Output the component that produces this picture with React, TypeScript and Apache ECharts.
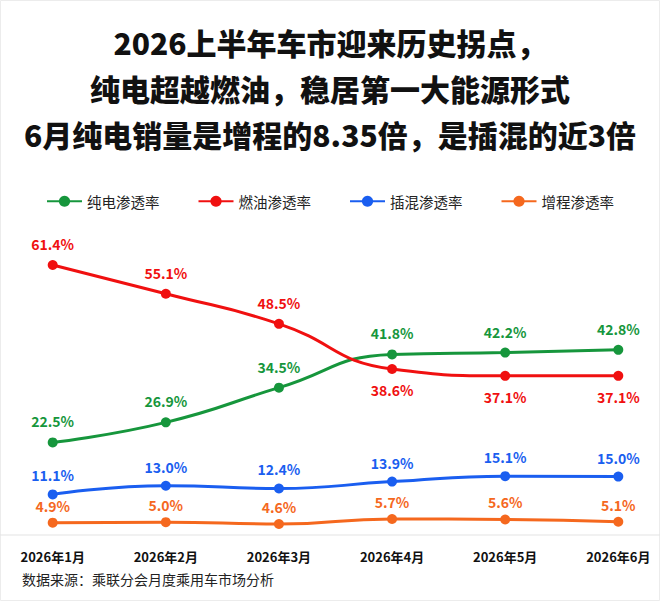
import { useEffect, useRef } from 'react'
import * as echarts from 'echarts'

const months = ['2026年1月', '2026年2月', '2026年3月', '2026年4月', '2026年5月', '2026年6月']
const bevShare = [22.5, 26.9, 34.5, 41.8, 42.2, 42.8]
const iceShare = [61.4, 55.1, 48.5, 38.6, 37.1, 37.1]
const phevShare = [11.1, 13.0, 12.4, 13.9, 15.1, 15.0]
const erevShare = [4.9, 5.0, 4.6, 5.7, 5.6, 5.1]

const titleLines = [
  '2026上半年车市迎来历史拐点，',
  '纯电超越燃油，稳居第一大能源形式',
  '6月纯电销量是增程的8.35倍，是插混的近3倍'
]
const sourceNote = '数据来源：乘联分会月度乘用车市场分析'

const FONT = '"Noto Sans CJK SC", "Noto Sans", sans-serif'

// 折线系列的公共配置
const makeSeries = (name: string, color: string, data: any[], labelGap: number) => ({
  name,
  type: 'line',
  smooth: true,
  symbol: 'circle',
  symbolSize: 10,
  data,
  itemStyle: { color },
  lineStyle: { color, width: 3 },
  label: {
    show: true,
    position: 'top',
    distance: labelGap,
    color,
    fontFamily: FONT,
    fontWeight: 'bold',
    fontSize: 14,
    formatter: (p: any) => Number(p.value).toFixed(1) + '%'
  }
})

function App() {
  const chartRef = useRef<HTMLDivElement>(null)

  useEffect(() => {
    const chart = echarts.init(chartRef.current, null, { renderer: 'svg' })

    // 燃油被纯电反超后，标签放到点的下方
    const iceData = iceShare.map((v, i) =>
      v < bevShare[i] ? { value: v, label: { position: 'bottom' } } : v
    )

    chart.setOption({
      animation: false,
      backgroundColor: '#fff',
      textStyle: { fontFamily: FONT },
      title: {
        text: titleLines.join('\n'),
        left: 'center',
        top: 14,
        textStyle: {
          fontFamily: FONT,
          fontSize: 30,
          fontWeight: 900,
          color: '#111',
          lineHeight: 46
        }
      },
      legend: {
        top: 189,
        left: 'center',
        itemWidth: 35,
        itemHeight: 14,
        itemGap: 38,
        textStyle: { fontFamily: FONT, fontSize: 14.5, color: '#222' },
        data: ['纯电渗透率', '燃油渗透率', '插混渗透率', '增程渗透率']
      },
      grid: { left: 52.7, right: 41.7, top: 225.8, bottom: 56 },
      xAxis: {
        type: 'category',
        boundaryGap: false,
        data: months,
        axisLine: { show: false },
        axisTick: { show: false },
        axisLabel: {
          margin: 5,
          color: '#111',
          fontFamily: FONT,
          fontWeight: 'bold',
          fontSize: 13
        }
      },
      yAxis: {
        type: 'value',
        min: 0,
        max: 70,
        show: false
      },
      graphic: [
        {
          type: 'rect',
          shape: { x: 0.5, y: 0.5, width: 659, height: 600 },
          style: { fill: 'none', stroke: '#ececec', lineWidth: 1 },
          silent: true
        },
        {
          type: 'line',
          shape: { x1: 0, y1: 535, x2: 660, y2: 535 },
          style: { stroke: '#e3e3e3', lineWidth: 1 }
        },
        {
          type: 'text',
          left: 22,
          top: 572,
          style: { text: sourceNote, fontFamily: FONT, fontSize: 14, fill: '#222' }
        }
      ],
      series: [
        makeSeries('纯电渗透率', '#16963c', bevShare, 9),
        makeSeries('燃油渗透率', '#f01010', iceData, 9),
        makeSeries('插混渗透率', '#1a5ef0', phevShare, 7),
        makeSeries('增程渗透率', '#f5681e', erevShare, 5)
      ]
    })

    return () => chart.dispose()
  }, [])

  return (
    <div
      ref={chartRef}
      style={{ position: 'fixed', left: 0, top: 0, width: 660, height: 601 }}
    />
  )
}

export default App
